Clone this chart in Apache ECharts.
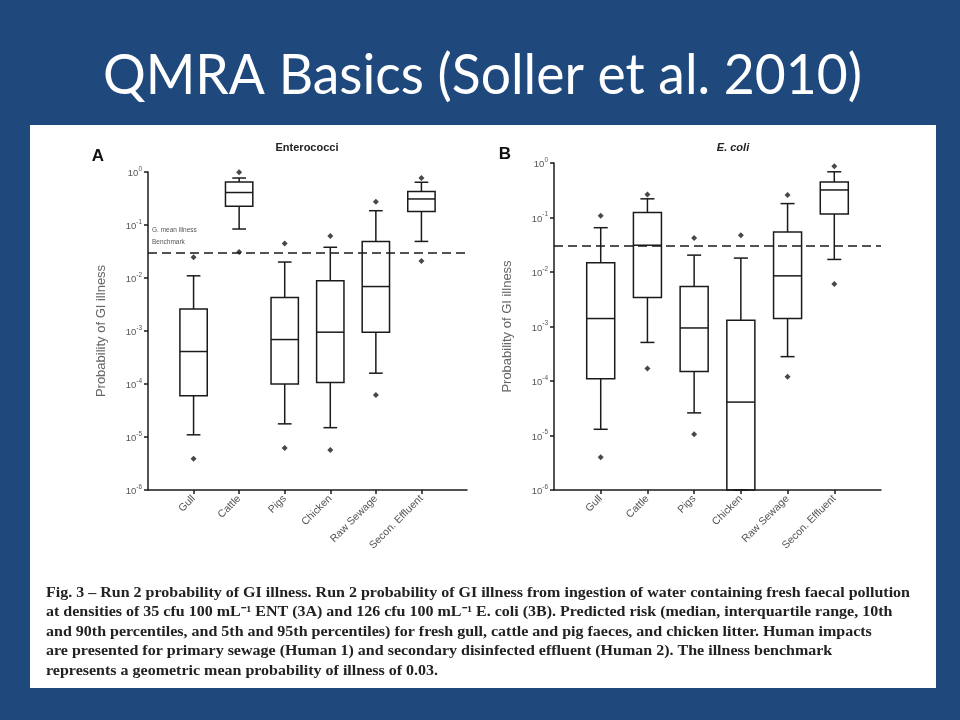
<!DOCTYPE html>
<html><head><meta charset="utf-8">
<script src="https://cdn.jsdelivr.net/npm/echarts@6/dist/echarts.min.js"></script>
<style>html,body{margin:0;padding:0;background:#1F497D;} #c{width:960px;height:720px;}</style>
</head><body><div id="c"></div>
<script>
// ---------- data ----------
const categories = ['Gull', 'Cattle', 'Pigs', 'Chicken', 'Raw Sewage', 'Secon. Effluent'];
// each box: [5th pct whisker, Q1, median, Q3, 95th pct whisker]
const entBoxes = [
  [1.1e-5, 6.0e-5, 4.1e-4, 2.6e-3, 0.011],
  [0.084, 0.225, 0.41, 0.65, 0.77],
  [1.77e-5, 1.0e-4, 6.9e-4, 4.3e-3, 0.020],
  [1.5e-5, 1.07e-4, 9.5e-4, 8.9e-3, 0.038],
  [1.6e-4, 9.5e-4, 6.9e-3, 0.049, 0.186],
  [0.049, 0.18, 0.31, 0.43, 0.64]
];
// outliers: [category index, value]
const entOutliers = [
  [0, 0.0245], [0, 3.9e-6],
  [1, 0.99], [1, 0.031],
  [2, 0.045], [2, 6.2e-6],
  [3, 0.062], [3, 5.7e-6],
  [4, 0.275], [4, 6.2e-5],
  [5, 0.77], [5, 0.021]
];
const ecoliBoxes = [
  [1.3e-5, 1.1e-4, 1.4e-3, 0.0148, 0.065],
  [5.1e-4, 3.4e-3, 0.031, 0.124, 0.22],
  [2.6e-5, 1.5e-4, 9.4e-4, 5.4e-3, 0.0204],
  [1.0e-6, 1.0e-6, 4.1e-5, 1.3e-3, 0.018],
  [2.8e-4, 1.4e-3, 8.5e-3, 0.054, 0.18],
  [0.017, 0.116, 0.32, 0.45, 0.69]
];
const ecoliOutliers = [
  [0, 0.108], [0, 4.0e-6],
  [1, 0.265], [1, 1.7e-4],
  [2, 0.042], [2, 1.05e-5],
  [3, 0.047],
  [4, 0.26], [4, 1.2e-4],
  [5, 0.87], [5, 0.006]
];
const benchmark = 0.03;
const captionLines = [
  'Fig. 3 \u2013 Run 2 probability of GI illness. Run 2 probability of GI illness from ingestion of water containing fresh faecal pollution',
  'at densities of 35 cfu 100 mL\u207B\u00B9 ENT (3A) and 126 cfu 100 mL\u207B\u00B9 E. coli (3B). Predicted risk (median, interquartile range, 10th',
  'and 90th percentiles, and 5th and 95th percentiles) for fresh gull, cattle and pig faeces, and chicken litter. Human impacts',
  'are presented for primary sewage (Human 1) and secondary disinfected effluent (Human 2). The illness benchmark',
  'represents a geometric mean probability of illness of 0.03.'
];
const slideTitle = 'QMRA Basics (Soller et al. 2010)';

// ---------- helpers ----------
const axisCats = [''].concat(categories, ['']);
const measureCtx = document.createElement('canvas').getContext('2d');
function fitScale(text, font, target) {
  measureCtx.font = font;
  return target / measureCtx.measureText(text).width;
}
const INK = '#1a1a1a';
function renderBox(params, api) {
  const x = api.value(0);
  const lo = api.coord([x, api.value(1)]);
  const q1 = api.coord([x, api.value(2)]);
  const md = api.coord([x, api.value(3)]);
  const q3 = api.coord([x, api.value(4)]);
  const hi = api.coord([x, api.value(5)]);
  const band = api.size([1, 0])[0];
  const hw = band * 0.3, cw = band * 0.15;
  const cx = md[0];
  const st = { stroke: INK, lineWidth: 1.5, fill: null };
  return {
    type: 'group', children: [
      { type: 'rect', shape: { x: cx - hw, y: q3[1], width: hw * 2, height: q1[1] - q3[1] }, style: { stroke: INK, lineWidth: 1.5, fill: 'rgba(0,0,0,0)' } },
      { type: 'line', shape: { x1: cx - hw, y1: md[1], x2: cx + hw, y2: md[1] }, style: st },
      { type: 'line', shape: { x1: cx, y1: q3[1], x2: cx, y2: hi[1] }, style: st },
      { type: 'line', shape: { x1: cx, y1: q1[1], x2: cx, y2: lo[1] }, style: st },
      { type: 'line', shape: { x1: cx - cw, y1: hi[1], x2: cx + cw, y2: hi[1] }, style: st },
      { type: 'line', shape: { x1: cx - cw, y1: lo[1], x2: cx + cw, y2: lo[1] }, style: st }
    ]
  };
}
const axisFont = 'Liberation Sans, Arial, sans-serif';
function makeX(gi) {
  return {
    type: 'category', gridIndex: gi, data: axisCats, boundaryGap: false,
    axisLine: { lineStyle: { color: INK, width: 1.5 } },
    axisTick: { interval: function (i) { return i > 0 && i < axisCats.length - 1; }, length: 4, lineStyle: { color: INK, width: 1.5 } },
    axisLabel: { interval: 0, rotate: 45, margin: 7, color: '#555', fontSize: 10.5, fontFamily: axisFont },
    splitLine: { show: false }
  };
}
function makeY(gi) {
  return {
    type: 'log', logBase: 10, gridIndex: gi, min: 1e-6, max: 1,
    name: 'Probability of GI illness', nameLocation: 'middle', nameGap: 40,
    nameTextStyle: { color: '#666', fontSize: 13, fontFamily: axisFont },
    axisLine: { show: true, lineStyle: { color: INK, width: 1.5 } },
    axisTick: { show: true, length: 4, lineStyle: { color: INK, width: 1.5 } },
    axisLabel: {
      margin: 6,
      formatter: function (v) { const e = Math.round(Math.log10(v)); return '{b|10}{s|' + (e < 0 ? '-' : '') + Math.abs(e) + '}'; },
      rich: {
        b: { fontSize: 9.5, color: '#555', fontFamily: axisFont, lineHeight: 13, verticalAlign: 'bottom' },
        s: { fontSize: 6.5, color: '#555', fontFamily: axisFont, verticalAlign: 'top' }
      }
    },
    splitLine: { show: false }
  };
}
function boxSeries(gi, boxes) {
  return {
    type: 'custom', xAxisIndex: gi, yAxisIndex: gi,
    data: boxes.map((b, i) => [i + 1].concat(b)),
    encode: { x: 0, y: [1, 2, 3, 4, 5] },
    renderItem: renderBox,
    z: 3,
    markLine: {
      silent: true, symbol: ['none', 'none'], label: { show: false },
      lineStyle: { color: INK, type: [9, 5], width: 1.5 },
      data: [{ yAxis: benchmark }]
    }
  };
}
function outlierSeries(gi, pts) {
  return {
    type: 'scatter', xAxisIndex: gi, yAxisIndex: gi, symbol: 'diamond', symbolSize: 6,
    itemStyle: { color: INK }, data: pts.map(p => [p[0] + 1, p[1]]), z: 4
  };
}

// ---------- layout ----------
const titleFont = '57px Lato';
const titleScale = fitScale(slideTitle, titleFont, 759);
const capFont = 'bold 14px "Liberation Serif"';
const capScale = fitScale(captionLines[0], capFont, 864);
const capY = [593, 612, 632, 651, 671];

const graphics = [
  { type: 'rect', shape: { x: 30, y: 125, width: 906, height: 563 }, style: { fill: '#ffffff' }, z: -10 },
  { type: 'text', x: 103, y: 76, scaleX: titleScale, style: { text: slideTitle, fontSize: 57, fontFamily: 'Lato', fill: '#ffffff', align: 'left', verticalAlign: 'middle' } },
  { type: 'text', x: 98, y: 156, style: { text: 'A', fontSize: 17, fontWeight: 'bold', fontFamily: axisFont, fill: '#111', align: 'center', verticalAlign: 'middle' } },
  { type: 'text', x: 505, y: 154, style: { text: 'B', fontSize: 17, fontWeight: 'bold', fontFamily: axisFont, fill: '#111', align: 'center', verticalAlign: 'middle' } },
  { type: 'text', x: 307, y: 148, style: { text: 'Enterococci', fontSize: 11, fontWeight: 'bold', fontFamily: axisFont, fill: '#222', align: 'center', verticalAlign: 'middle' } },
  { type: 'text', x: 733, y: 148, style: { text: 'E. coli', fontSize: 11, fontWeight: 'bold', fontStyle: 'italic', fontFamily: axisFont, fill: '#222', align: 'center', verticalAlign: 'middle' } },
  { type: 'text', x: 152, y: 230, style: { text: 'G. mean illness', fontSize: 6.5, fontFamily: axisFont, fill: '#555', align: 'left', verticalAlign: 'middle' } },
  { type: 'text', x: 152, y: 242, style: { text: 'Benchmark', fontSize: 6.5, fontFamily: axisFont, fill: '#555', align: 'left', verticalAlign: 'middle' } }
];
captionLines.forEach((t, i) => {
  graphics.push({ type: 'text', x: 46, y: capY[i], scaleX: capScale, style: { text: t, font: capFont, fill: '#222', align: 'left', verticalAlign: 'middle' } });
});

const chart = echarts.init(document.getElementById('c'), null, { renderer: 'canvas' });
chart.setOption({
  backgroundColor: '#1F497D',
  animation: false,
  grid: [
    { left: 148, top: 172, width: 319, height: 318 },
    { left: 554, top: 163, width: 327, height: 327 }
  ],
  xAxis: [makeX(0), makeX(1)],
  yAxis: [makeY(0), makeY(1)],
  series: [
    boxSeries(0, entBoxes), outlierSeries(0, entOutliers),
    boxSeries(1, ecoliBoxes), outlierSeries(1, ecoliOutliers)
  ],
  graphic: graphics
});
</script></body></html>
